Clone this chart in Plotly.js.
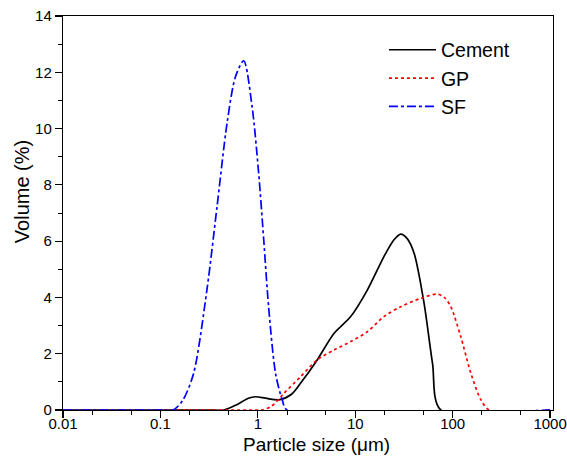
<!DOCTYPE html>
<html>
<head>
<meta charset="utf-8">
<script src="https://cdn.plot.ly/plotly-3.0.1.min.js"></script>
<style>html,body{margin:0;padding:0;background:#fff;}#chart{width:567px;height:459px;}</style>
</head>
<body>
<div id="chart"></div>
<script>
var cementX = [0.01, 0.3, 0.45, 0.6, 0.8, 0.95, 1.2, 1.64, 2.2, 2.74, 4.07, 6.04, 8.98, 13.3, 19.7, 25, 29.3, 34, 40.2, 50.9, 62.1, 75.5, 1000];
var cementY = [0, 0, 0, 0.18, 0.42, 0.47, 0.42, 0.36, 0.55, 0.95, 1.78, 2.72, 3.32, 4.26, 5.45, 6.05, 6.25, 6.1, 5.57, 3.79, 1.66, 0, 0];

var gpX = [0.01, 0.8, 1.1, 1.4, 1.85, 2.74, 4.07, 6.04, 8.98, 13.3, 19.7, 29.3, 47.1, 70.0, 82, 95.7, 121, 154, 195, 238, 1000];
var gpY = [0, 0, 0, 0.15, 0.59, 1.18, 1.78, 2.13, 2.43, 2.78, 3.32, 3.67, 3.97, 4.12, 4.0, 3.67, 2.61, 1.30, 0.36, 0, 0];

var sfX = [0.01, 0.1, 0.135, 0.17, 0.219, 0.30, 0.381, 0.483, 0.589, 0.716, 0.873, 1.02, 1.15, 1.29, 1.52, 1.78, 2.0, 1000];
var sfY = [0, 0, 0, 0.35, 1.30, 4.26, 7.22, 10.19, 11.84, 12.41, 10.78, 8.41, 6.04, 3.67, 1.30, 0.36, 0, 0];

var xTickVals = [0.01, 0.1, 1, 10, 100, 1000];
var xTickText = ["0.01", "0.1", "1", "10", "100", "1000"];

var xTitle = "Particle size (\u03bcm)";
var yTitle = "Volume (%)";

var font = "Liberation Sans, Arial, sans-serif";

var traces = [
  {x: cementX, y: cementY, name: "Cement", mode: "lines",
   line: {color: "#000000", width: 1.7, shape: "spline", smoothing: 0.8}},
  {x: gpX, y: gpY, name: "GP", mode: "lines",
   line: {color: "#ff0000", width: 1.7, dash: "dot", shape: "spline", smoothing: 0.8}},
  {x: sfX, y: sfY, name: "SF", mode: "lines",
   line: {color: "#0000ff", width: 1.7, dash: "dashdot", shape: "spline", smoothing: 0.8}}
];

var layout = {
  width: 567, height: 459,
  margin: {l: 63, r: 14, t: 16, b: 49},
  paper_bgcolor: "#ffffff", plot_bgcolor: "#ffffff",
  font: {family: font, size: 15, color: "#000"},
  showlegend: true,
  legend: {x: 0.655, y: 0.963, xanchor: "left", yanchor: "top", bgcolor: "rgba(0,0,0,0)",
           font: {family: font, size: 19.5, color: "#000"}, tracegroupgap: 0, itemwidth: 47},
  xaxis: {
    type: "log", range: [-2, 3.03],
    tickvals: xTickVals, ticktext: xTickText,
    ticks: "outside", ticklen: 7, tickwidth: 1.2, tickcolor: "#000",
    ticklabelstandoff: -7,
    showline: true, linecolor: "#000", linewidth: 1.2, mirror: true,
    showgrid: false, zeroline: false,
    minor: {ticks: "outside", ticklen: 3.5, tickcolor: "#000", tickwidth: 1, showgrid: false},
    tickfont: {family: font, size: 15, color: "#000"}
  },
  yaxis: {
    range: [0, 14], dtick: 2, tick0: 0,
    ticks: "outside", ticklen: 7, tickwidth: 1.2, tickcolor: "#000",
    showline: true, linecolor: "#000", linewidth: 1.2, mirror: true,
    showgrid: false, zeroline: false,
    minor: {ticks: "outside", dtick: 1, ticklen: 3.5, tickcolor: "#000", tickwidth: 1, showgrid: false},
    tickfont: {family: font, size: 15, color: "#000"}
  },
  annotations: [
    {text: xTitle, xref: "paper", yref: "paper", x: 0.517, y: -0.0888, xanchor: "center", yanchor: "middle",
     showarrow: false, font: {family: font, size: 19, color: "#000"}},
    {text: yTitle, xref: "paper", yref: "paper", x: -0.0823, y: 0.5546, xanchor: "center", yanchor: "middle",
     textangle: -90, showarrow: false, font: {family: font, size: 20, color: "#000"}}
  ]
};

Plotly.newPlot("chart", traces, layout, {displayModeBar: false, staticPlot: true});
</script>
</body>
</html>
